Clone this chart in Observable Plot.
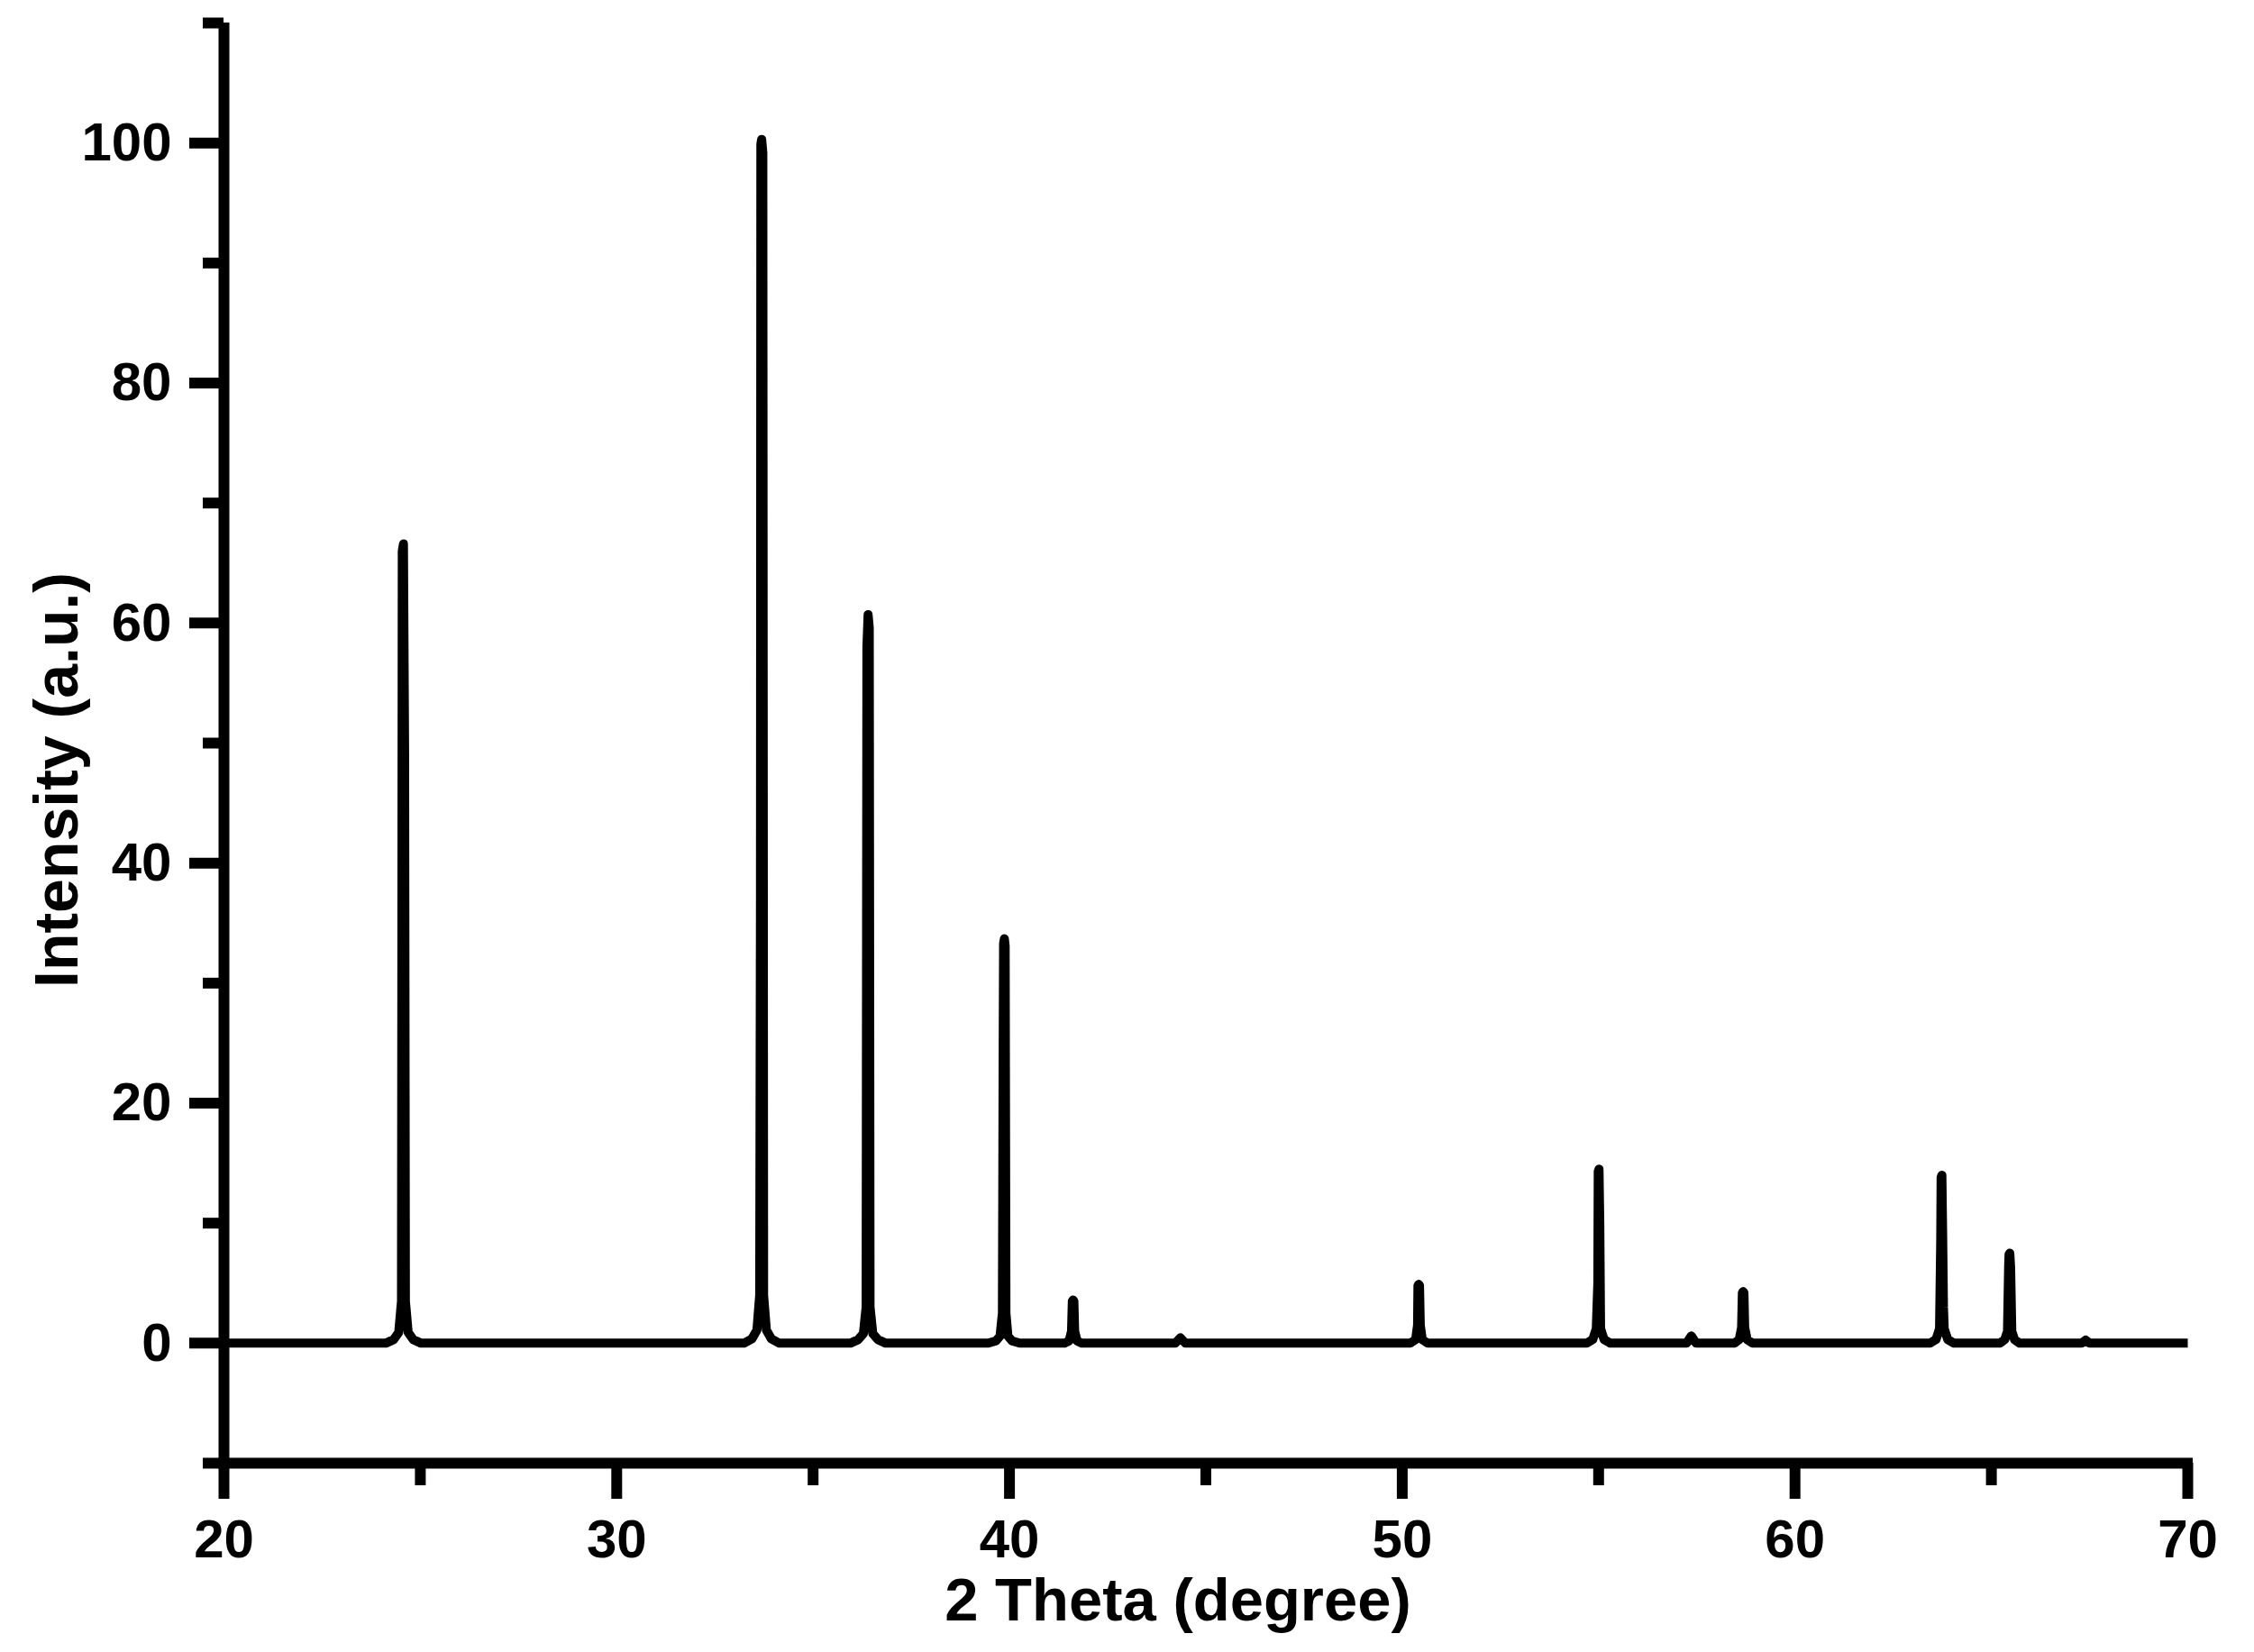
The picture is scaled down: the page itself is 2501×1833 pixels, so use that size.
<!DOCTYPE html>
<html>
<head>
<meta charset="utf-8">
<script src="https://cdn.jsdelivr.net/npm/d3@7"></script>
<script src="https://cdn.jsdelivr.net/npm/@observablehq/plot@0.6"></script>
<style>
  html, body { margin: 0; padding: 0; background: #fff; }
  #chart { width: 2501px; height: 1833px; }
</style>
</head>
<body>
<div id="chart"></div>
<script>
// XRD pattern: [2θ (degree), intensity (a.u.)]
const pattern = [
  [20.00, 0],
  [24.12, 0], [24.32, 0.3], [24.45, 0.9], [24.52, 3.5], [24.54, 66.0], [24.57, 66.6], [24.60, 49], [24.62, 3.5], [24.69, 0.9], [24.82, 0.3], [25.02, 0],
  [33.24, 0], [33.44, 0.35], [33.57, 1.1], [33.64, 4], [33.66, 37], [33.67, 99.9], [33.69, 100.3], [33.72, 99.2], [33.74, 4], [33.81, 1.1], [33.94, 0.35], [34.14, 0],
  [35.95, 0], [36.15, 0.3], [36.28, 0.8], [36.35, 3], [36.37, 58], [36.40, 60.7], [36.43, 59.6], [36.45, 3], [36.52, 0.8], [36.65, 0.3], [36.85, 0],
  [39.46, 0], [39.66, 0.2], [39.76, 0.6], [39.82, 2.5], [39.84, 25], [39.85, 33.3], [39.87, 33.7], [39.89, 33.1], [39.91, 2.5], [39.96, 0.6], [40.06, 0.2], [40.26, 0],
  [41.40, 0], [41.52, 0.2], [41.58, 1], [41.60, 3.5], [41.62, 3.6], [41.64, 3.5], [41.66, 1], [41.72, 0.2], [41.84, 0],
  [44.22, 0], [44.35, 0.45], [44.48, 0],
  [50.20, 0], [50.34, 0.3], [50.39, 1.5], [50.40, 4.8], [50.42, 4.9], [50.44, 4.8], [50.46, 1.5], [50.51, 0.3], [50.65, 0],
  [54.70, 0], [54.85, 0.3], [54.94, 1.2], [54.98, 5], [54.99, 14.3], [55.01, 14.5], [55.03, 10], [55.05, 1.2], [55.14, 0.3], [55.30, 0],
  [57.24, 0], [57.36, 0.6], [57.48, 0],
  [58.46, 0], [58.58, 0.3], [58.64, 1.3], [58.66, 4.2], [58.68, 4.3], [58.70, 4.2], [58.72, 1.3], [58.78, 0.3], [58.92, 0],
  [63.44, 0], [63.59, 0.3], [63.68, 1.2], [63.71, 8.5], [63.72, 13.8], [63.74, 14.0], [63.76, 9], [63.78, 3], [63.80, 1.2], [63.89, 0.3], [64.05, 0],
  [65.22, 0], [65.34, 0.3], [65.41, 1], [65.44, 6.5], [65.45, 7.4], [65.47, 7.5], [65.49, 6.3], [65.52, 1], [65.59, 0.3], [65.72, 0],
  [67.30, 0], [67.40, 0.25], [67.50, 0],
  [70.00, 0]
];

const xMajor = [20, 30, 40, 50, 60, 70];
const xMinor = [25, 35, 45, 55, 65];
const yMajor = [0, 20, 40, 60, 80, 100];
const yMinor = [-10, 10, 30, 50, 70, 90, 110];
const xLabel = "2 Theta (degree)";
const yLabel = "Intensity (a.u.)";

const data = pattern.map(([t, v]) => ({t, v}));
const font = "'Liberation Sans', Arial, sans-serif";

const chart = Plot.plot({
  width: 2501,
  height: 1833,
  marginLeft: 248,
  marginRight: 74,
  marginTop: 25,
  marginBottom: 210,
  style: {fontFamily: font, fontWeight: "bold", fontSize: "60px", color: "#000", background: "#fff"},
  x: {domain: [20, 70]},
  y: {domain: [-10, 110]},
  marks: [
    Plot.line(data, {x: "t", y: "v", stroke: "#000", strokeWidth: 10, strokeLinejoin: "round", strokeLinecap: "butt"}),
    Plot.axisX({ticks: xMajor, tickSize: 40, tickPadding: 22, strokeWidth: 12, fontSize: 60, fontWeight: "bold", fontFamily: font, label: null, tickFormat: d => String(d)}),
    Plot.axisX({ticks: xMinor, tickSize: 25, strokeWidth: 12, label: null, tickFormat: () => ""}),
    Plot.axisY({ticks: yMajor, tickSize: 38, tickPadding: 20, strokeWidth: 12, fontSize: 60, fontWeight: "bold", fontFamily: font, label: null, tickFormat: d => String(d)}),
    Plot.axisY({ticks: yMinor, tickSize: 23, strokeWidth: 12, label: null, tickFormat: () => ""}),
    Plot.ruleY([-10], {stroke: "#000", strokeWidth: 12, strokeLinecap: "square"}),
    Plot.ruleX([20], {stroke: "#000", strokeWidth: 12, strokeLinecap: "butt"}),
    Plot.text([xLabel], {text: d => d, frameAnchor: "bottom", textAnchor: "middle", dx: -31, dy: 153, lineAnchor: "middle", fontSize: 67, fontWeight: "bold", fontFamily: font, fill: "#000"}),
    Plot.text([yLabel], {text: d => d, frameAnchor: "left", textAnchor: "middle", rotate: -90, dx: -184, dy: 41, lineAnchor: "middle", fontSize: 68, fontWeight: "bold", fontFamily: font, fill: "#000"})
  ]
});
document.getElementById("chart").appendChild(chart);
</script>
</body>
</html>
